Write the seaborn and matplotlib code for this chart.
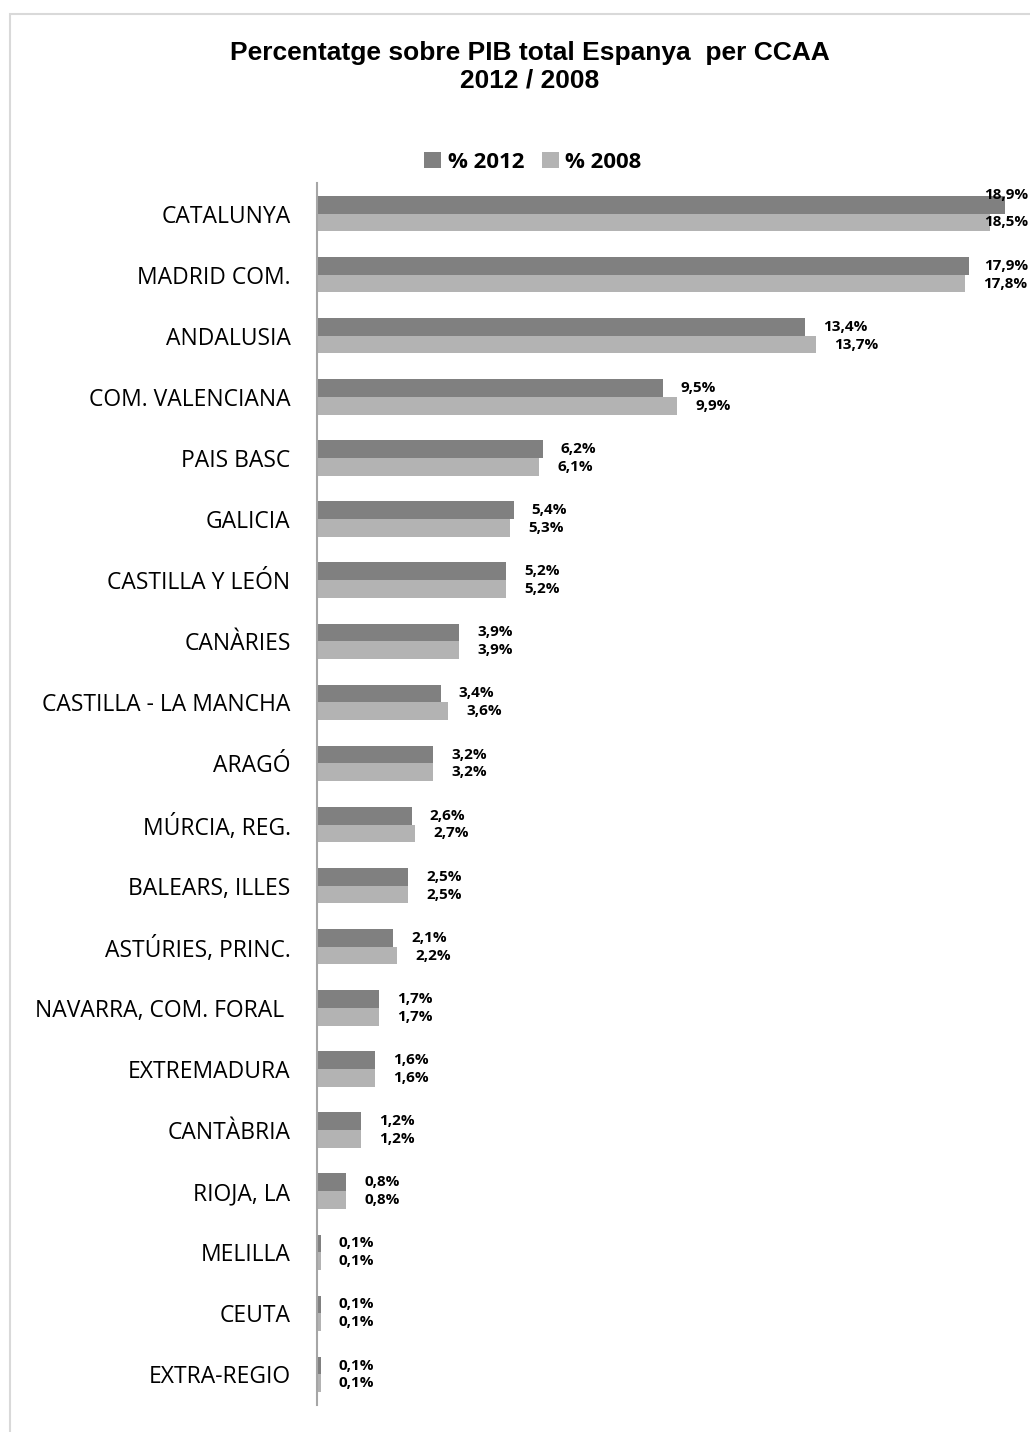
import matplotlib
matplotlib.use("Agg")
import matplotlib.pyplot as plt
import seaborn as sns
import pandas as pd
from matplotlib.patches import Rectangle, Patch

regions = ["CATALUNYA", "MADRID COM.", "ANDALUSIA", "COM. VALENCIANA", "PAIS BASC",
           "GALICIA", "CASTILLA Y LEÓN", "CANÀRIES", "CASTILLA - LA MANCHA", "ARAGÓ",
           "MÚRCIA, REG.", "BALEARS, ILLES", "ASTÚRIES, PRINC.", "NAVARRA, COM. FORAL ",
           "EXTREMADURA", "CANTÀBRIA", "RIOJA, LA", "MELILLA", "CEUTA", "EXTRA-REGIO"]
pct_2012 = [18.9, 17.9, 13.4, 9.5, 6.2, 5.4, 5.2, 3.9, 3.4, 3.2, 2.6, 2.5, 2.1, 1.7, 1.6, 1.2, 0.8, 0.1, 0.1, 0.1]
pct_2008 = [18.5, 17.8, 13.7, 9.9, 6.1, 5.3, 5.2, 3.9, 3.6, 3.2, 2.7, 2.5, 2.2, 1.7, 1.6, 1.2, 0.8, 0.1, 0.1, 0.1]
series = ["% 2012", "% 2008"]
colors = ["#808080", "#b3b3b3"]

df = pd.concat([
    pd.DataFrame({"region": regions, "value": pct_2012, "serie": series[0]}),
    pd.DataFrame({"region": regions, "value": pct_2008, "serie": series[1]}),
])

sns.set_theme(style="white")
plt.rcParams["font.family"] = ["Open Sans", "DejaVu Sans"]
plt.rcParams["text.color"] = "black"
plt.rcParams["ytick.color"] = "black"

W, H = 1030, 1432
fig = plt.figure(figsize=(W / 100, H / 100), dpi=100)
ax = fig.add_axes([317 / W, 27 / H, 1 - 317 / W, (1405 - 183) / H])

sns.barplot(data=df, y="region", x="value", hue="serie", hue_order=series,
            order=regions, palette=colors, orient="h", width=0.58,
            saturation=1, legend=False, ax=ax, errorbar=None, linewidth=0)

ax.set_xlim(0, (W - 317) / 36.4)
ax.set_ylim(len(regions) - 0.5, -0.5)
ax.set_xlabel("")
ax.set_ylabel("")
ax.set_xticks([])
ax.tick_params(axis="y", length=0, pad=19, labelsize=16.5, labelcolor="black")
for s in ["top", "right", "bottom"]:
    ax.spines[s].set_visible(False)
ax.spines["left"].set_color("#a6a6a6")
ax.spines["left"].set_linewidth(1.5)

all_labels = []
for cont in ax.containers:
    labels = [f"{v:.1f}%".replace(".", ",") for v in cont.datavalues]
    anns = ax.bar_label(cont, labels=labels, padding=13, fontsize=11, fontweight="bold",
                        color="black", clip_on=False)
    all_labels.extend(zip(anns, cont.patches))

fig.text(530 / W, 1 - 67 / H, "Percentatge sobre PIB total Espanya  per CCAA\n2012 / 2008",
         ha="center", va="center", fontsize=19, fontweight="bold", color="black",
         family=["Liberation Sans", "DejaVu Sans"], linespacing=1.2)

handles = [Patch(facecolor=c, edgecolor="none") for c in colors]
fig.legend(handles, series, loc="center", bbox_to_anchor=(533 / W, 1 - 162 / H),
           ncol=2, frameon=False, prop={"weight": "bold", "size": 16},
           handlelength=0.75, handleheight=0.75, handletextpad=0.3, columnspacing=0.8,
           labelcolor="black")

fig.patches.append(Rectangle((10 / W, -0.05), 1.2, 1 - 14 / H + 0.05,
                             transform=fig.transFigure, fill=False,
                             edgecolor="#d9d9d9", linewidth=1.5))

# keep labels that would run past the right edge inside the figure
fig.canvas.draw()
r = fig.canvas.get_renderer()
px2pt = 72 / fig.dpi
for ann, bar in all_labels:
    bb = ann.get_window_extent(r)
    over = bb.x1 - (W - 2)
    if over > 0:
        bar_end = ax.transData.transform((bar.get_x() + bar.get_width(), 0))[0]
        ox, oy = ann.xyann
        ox -= over * px2pt
        new_left = bb.x0 - over
        if new_left < bar_end - 10:
            oy += 10 * px2pt
        ann.xyann = (ox, oy)

fig.savefig("out.png", dpi=100)
